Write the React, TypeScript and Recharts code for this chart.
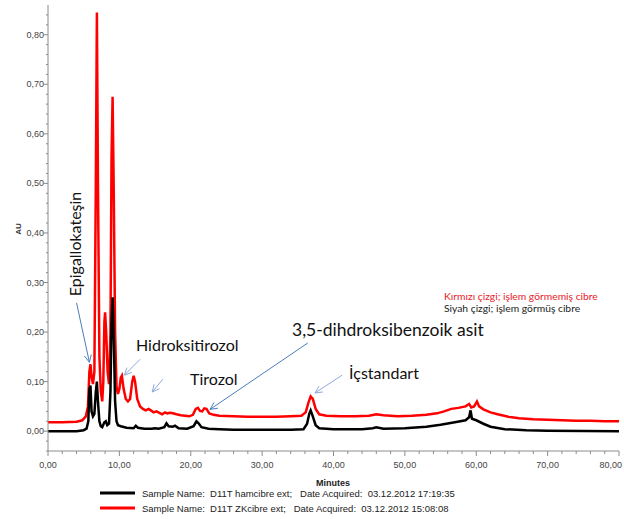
import React from "react";
import { LineChart, Line, XAxis, YAxis, ReferenceLine } from "recharts";

// Retention time (min) and absorbance (AU) for the untreated sample (red trace)
const redTimes = [
  0, 2, 4, 4.8, 5.3, 5.6, 5.8, 5.95, 6.1, 6.3, 6.5, 6.7, 6.85, 7.0, 7.2, 7.4, 7.6, 7.75, 7.9, 8.0,
  8.15, 8.35, 8.55, 8.75, 8.9, 9.05, 9.2, 9.4, 9.6, 9.8, 10.0, 10.2, 10.35, 10.6, 10.9, 11.2, 11.5, 11.8,
  12.0, 12.2, 12.5, 12.9, 13.3, 13.7, 14.1, 14.4, 14.8, 15.2, 15.6, 16.0, 16.4, 16.7, 17.1, 17.5, 18.0,
  18.6, 19.2, 19.8, 20.3, 20.7, 21.0, 21.3, 21.6, 21.9, 22.2, 22.6, 23.2, 24, 26, 28, 30, 32, 34, 35.5,
  36.1, 36.5, 36.8, 37.1, 37.5, 38, 39, 41, 43, 45, 46, 47, 49, 51, 53, 54.5, 55.5, 56.5, 57.5, 58.5,
  59.0, 59.3, 59.7, 60.1, 60.4, 61, 62, 63, 64.5, 66, 68, 70, 72, 74, 76, 78, 80,
];
const redAU = [
  0.018, 0.018, 0.019, 0.022, 0.03, 0.05, 0.12, 0.135, 0.11, 0.095, 0.12, 0.5, 0.845, 0.5, 0.15, 0.08,
  0.06, 0.1, 0.22, 0.24, 0.2, 0.12, 0.095, 0.2, 0.55, 0.675, 0.5, 0.2, 0.09, 0.075, 0.085, 0.108, 0.112,
  0.085, 0.065, 0.06, 0.065, 0.1, 0.112, 0.1, 0.065, 0.05, 0.045, 0.042, 0.045, 0.042, 0.038, 0.04,
  0.037, 0.034, 0.038, 0.036, 0.037, 0.036, 0.034, 0.032, 0.031, 0.03, 0.033, 0.045, 0.047, 0.041, 0.04,
  0.046, 0.045, 0.036, 0.033, 0.031, 0.03, 0.029, 0.029, 0.029, 0.03, 0.031, 0.038, 0.058, 0.07, 0.065,
  0.045, 0.034, 0.031, 0.03, 0.03, 0.031, 0.034, 0.032, 0.03, 0.031, 0.033, 0.036, 0.04, 0.045, 0.047,
  0.05, 0.055, 0.048, 0.05, 0.06, 0.05, 0.044, 0.038, 0.034, 0.029, 0.026, 0.024, 0.023, 0.022, 0.021,
  0.021, 0.02, 0.02,
];

// Retention time (min) and absorbance (AU) for the treated sample (black trace)
const blackTimes = [
  0, 4, 5.0, 5.4, 5.65, 5.8, 5.95, 6.1, 6.3, 6.5, 6.7, 6.85, 7.0, 7.2, 7.4, 7.6, 7.9, 8.1, 8.3, 8.55,
  8.75, 8.9, 9.05, 9.2, 9.4, 9.6, 9.8, 10.2, 11, 12, 12.3, 12.6, 13.5, 14.5, 15, 15.5, 16.3, 16.6, 16.9,
  17.5, 17.8, 18.3, 19.5, 20.4, 20.8, 21.1, 21.5, 22.5, 24, 26, 30, 34, 35.8, 36.3, 36.6, 36.8, 37.1,
  37.5, 38, 40, 44, 45.5, 46, 47, 50, 53, 55, 57, 58.5, 59.0, 59.2, 59.4, 60, 61, 62, 64, 67, 70, 80,
];
const blackAU = [
  0.0, 0.0, 0.002, 0.005, 0.02, 0.085, 0.092, 0.04, 0.03, 0.035, 0.08, 0.1, 0.06, 0.02, 0.01, 0.008,
  0.018, 0.02, 0.012, 0.015, 0.08, 0.22, 0.27, 0.2, 0.06, 0.02, 0.012, 0.01, 0.007, 0.006, 0.011, 0.007,
  0.005, 0.005, 0.006, 0.005, 0.008, 0.016, 0.01, 0.009, 0.011, 0.006, 0.005, 0.01, 0.02, 0.016, 0.008,
  0.005, 0.004, 0.003, 0.003, 0.003, 0.004, 0.015, 0.035, 0.042, 0.03, 0.012, 0.006, 0.004, 0.004,
  0.006, 0.008, 0.005, 0.006, 0.009, 0.013, 0.018, 0.022, 0.028, 0.042, 0.025, 0.022, 0.015, 0.009,
  0.004, 0.002, 0.001, 0.0,
];

// Axis ticks (labelled majors, unlabelled minors)
const xMajorTicks = [0, 10, 20, 30, 40, 50, 60, 70, 80];
const yMajorTicks = [0, 0.1, 0.2, 0.3, 0.4, 0.5, 0.6, 0.7, 0.8];
const xMinorStep = 2;
const yMinorStep = 0.02;

// Peak annotations: label and arrow from (fromT, fromAU) to (toT, toAU)
const peakNames = ["Epigallokateşin", "Hidroksitirozol", "Tirozol", "3,5-dihdroksibenzoik asit", "İçstandart"];
const arrowFrom = [
  [4.0, 0.259],
  [12.9, 0.145],
  [16.1, 0.105],
  [36.4, 0.178],
  [41.2, 0.113],
];
const arrowTo = [
  [5.8, 0.139],
  [10.7, 0.113],
  [14.6, 0.079],
  [22.7, 0.044],
  [37.4, 0.077],
];
const arrowColors = ["#4a7ebb", "#8faadc", "#8faadc", "#4a7ebb", "#8faadc"];

const legendSamples = [
  "Sample Name:  D11T hamcibre ext;   Date Acquired:  03.12.2012 17:19:35",
  "Sample Name:  D11T ZKcibre ext;   Date Acquired:  03.12.2012 15:08:08",
];
const noteLines = ["Kırmızı çizgi; işlem görmemiş cibre", "Siyah çizgi; işlem görmüş cibre"];

const W = 624;
const H = 519;

const redData = redTimes.map((t, i) => ({ t, v: redAU[i] }));
const blackData = blackTimes.map((t, i) => ({ t, v: blackAU[i] }));

const xTicks = Array.from({ length: 80 / xMinorStep + 1 }, (_, i) => i * xMinorStep);
const yTicks = Array.from({ length: 45 }, (_, i) => Math.round((-0.04 + i * yMinorStep) * 100) / 100);

const isMajor = (v: number, list: number[]) => list.some((m) => Math.abs(m - v) < 1e-6);
const fmt = (v: number) => v.toFixed(2).replace(".", ",");

const axisColor = "#8c8c8c";
const tickFont = "'Liberation Sans', Arial, sans-serif";

function XTick(props: any) {
  const { x, y, payload } = props;
  const major = isMajor(payload.value, xMajorTicks);
  const last = payload.value === xMajorTicks[xMajorTicks.length - 1];
  return (
    <g>
      <line x1={x} y1={y} x2={x} y2={y + (major ? 5 : 3)} stroke={axisColor} strokeWidth={1} />
      {major && (
        <text
          x={last ? x + 3 : x}
          y={y + 17}
          textAnchor={last ? "end" : "middle"}
          fontSize={9}
          fill="#444"
          fontFamily={tickFont}
        >
          {fmt(payload.value)}
        </text>
      )}
    </g>
  );
}

function YTick(props: any) {
  const { x, y, payload } = props;
  const major = isMajor(payload.value, yMajorTicks);
  return (
    <g>
      <line x1={x} y1={y} x2={x - (major ? 4 : 2)} y2={y} stroke={axisColor} strokeWidth={1} />
      {major && (
        <text x={x - 4} y={y + 3} textAnchor="end" fontSize={9} fill="#444" fontFamily={tickFont}>
          {fmt(payload.value)}
        </text>
      )}
    </g>
  );
}

function ArrowShape(color: string) {
  return (props: any) => {
    const { x1, y1, x2, y2 } = props;
    const ang = Math.atan2(y2 - y1, x2 - x1);
    const len = 8;
    const spread = 0.45;
    const ax = x2 - len * Math.cos(ang - spread);
    const ay = y2 - len * Math.sin(ang - spread);
    const bx = x2 - len * Math.cos(ang + spread);
    const by = y2 - len * Math.sin(ang + spread);
    return (
      <g>
        <line x1={x1} y1={y1} x2={x2} y2={y2} stroke={color} strokeWidth={1} />
        <polyline points={`${ax},${ay} ${x2},${y2} ${bx},${by}`} fill="none" stroke={color} strokeWidth={1} />
      </g>
    );
  };
}

const labelFont = "Lato, 'Open Sans', sans-serif";

export default function App() {
  return (
    <div style={{ position: "absolute", left: 0, top: 0, width: W, height: H, background: "#fff" }}>
      <LineChart width={W} height={H} margin={{ top: 5, right: 5, bottom: 48, left: 0 }}>
        <XAxis
          dataKey="t"
          type="number"
          domain={[0, 80]}
          ticks={xTicks}
          interval={0}
          allowDataOverflow
          stroke={axisColor}
          tickLine={false}
          tickSize={0}
          tickMargin={0}
          height={20}
          tick={<XTick />}
        />
        <YAxis
          dataKey="v"
          type="number"
          domain={[-0.04, 0.86]}
          ticks={yTicks}
          interval={0}
          allowDataOverflow
          stroke={axisColor}
          tickLine={false}
          tickSize={0}
          tickMargin={0}
          width={48}
          tick={<YTick />}
        />
        <Line
          data={redData}
          dataKey="v"
          type="linear"
          stroke="#ff0000"
          strokeWidth={2.5}
          dot={false}
          isAnimationActive={false}
        />
        <Line
          data={blackData}
          dataKey="v"
          type="linear"
          stroke="#000000"
          strokeWidth={2.5}
          dot={false}
          isAnimationActive={false}
        />
        {peakNames.map((name, i) => (
          <ReferenceLine
            key={name}
            segment={[
              { x: arrowFrom[i][0], y: arrowFrom[i][1] },
              { x: arrowTo[i][0], y: arrowTo[i][1] },
            ]}
            ifOverflow="visible"
            shape={ArrowShape(arrowColors[i])}
          />
        ))}
      </LineChart>
      <svg
        width={W}
        height={H}
        style={{ position: "absolute", left: 0, top: 0, pointerEvents: "none" }}
      >
        <text
          transform="translate(21,229) rotate(-90)"
          textAnchor="middle"
          fontSize={8}
          fontWeight="bold"
          fill="#333"
          fontFamily={tickFont}
        >
          AU
        </text>
        <text
          transform="translate(81,244) rotate(-90)"
          textAnchor="middle"
          fontSize={16}
          fill="#111"
          fontFamily={labelFont}
        >
          {peakNames[0]}
        </text>
        <text x={136} y={351} fontSize={16} fill="#111" fontFamily={labelFont}>
          {peakNames[1]}
        </text>
        <text x={190} y={385} fontSize={16} fill="#111" fontFamily={labelFont}>
          {peakNames[2]}
        </text>
        <text x={292} y={336} fontSize={17.5} fill="#111" fontFamily={labelFont}>
          {peakNames[3]}
        </text>
        <text x={349} y={379} fontSize={16} fill="#111" fontFamily={labelFont}>
          {peakNames[4]}
        </text>
        <text x={444} y={300} fontSize={10.3} fill="#e8202a" fontFamily={labelFont}>
          {noteLines[0]}
        </text>
        <text x={444} y={312} fontSize={10.3} fill="#222" fontFamily={labelFont}>
          {noteLines[1]}
        </text>
        <text x={333} y={486} textAnchor="middle" fontSize={9} fontWeight="bold" fill="#222" fontFamily={tickFont}>
          Minutes
        </text>
        <line x1={100} y1={493} x2={135} y2={493} stroke="#000" strokeWidth={3} />
        <text x={142} y={497} fontSize={9.5} fill="#222" fontFamily={tickFont} style={{ whiteSpace: "pre" }}>
          {legendSamples[0]}
        </text>
        <line x1={100} y1={508} x2={135} y2={508} stroke="#ff0000" strokeWidth={3} />
        <text x={142} y={512} fontSize={9.5} fill="#222" fontFamily={tickFont} style={{ whiteSpace: "pre" }}>
          {legendSamples[1]}
        </text>
      </svg>
    </div>
  );
}
